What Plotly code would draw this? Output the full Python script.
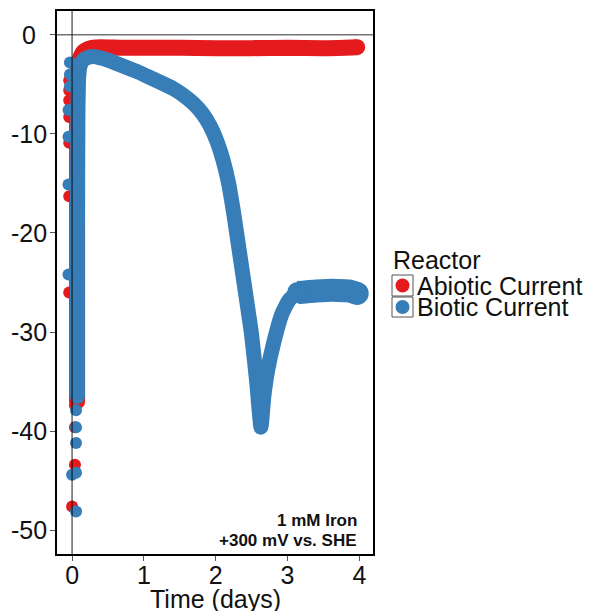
import plotly.graph_objects as go

# ---- data ----
red_dot_x = [-0.04, -0.04, -0.04, -0.04, -0.04, -0.04, -0.04, 0.04, 0.04, 0.04, 0.0]
red_dot_y = [-4.6, -5.6, -6.6, -8.3, -10.9, -16.3, -26.0, -37.4, -39.6, -43.4, -47.6]

blue_dot_x = [-0.03, -0.03, -0.03, -0.05, -0.05, -0.05, -0.05, 0.055, 0.055, 0.055, 0.055, 0.0, 0.055]
blue_dot_y = [-2.8, -4.0, -5.2, -7.6, -10.3, -15.1, -24.2, -37.9, -39.6, -41.2, -44.2, -44.4, -48.1]

red_curve_x = [0.07, 0.07, 0.07, 0.075, 0.09, 0.12, 0.16, 0.22, 0.30, 0.40, 0.70,
               1.00, 1.50, 2.00, 2.50, 3.00, 3.50, 3.80, 3.97]
red_curve_y = [-37.0, -20.0, -8.0, -4.5, -3.0, -2.2, -1.7, -1.45, -1.3, -1.25, -1.3,
               -1.3, -1.3, -1.35, -1.35, -1.3, -1.35, -1.3, -1.25]

blue_curve_x = [0.075, 0.075, 0.08, 0.09, 0.11, 0.15, 0.22, 0.30, 0.40, 0.50, 0.62, 0.76, 0.90,
                1.05, 1.23, 1.40, 1.55, 1.70, 1.82, 1.93, 2.02, 2.10, 2.18, 2.25, 2.33, 2.42,
                2.50, 2.57, 2.63, 2.67, 2.72, 2.81, 2.92, 3.02, 3.12, 3.20]
blue_curve_y = [-36.5, -20.0, -8.0, -4.5, -3.2, -2.6, -2.3, -2.2, -2.35, -2.55, -2.9, -3.3, -3.7,
                -4.2, -4.8, -5.4, -6.1, -7.0, -8.0, -9.3, -10.8, -12.6, -15.0, -18.0, -21.9, -26.3,
                -30.3, -35.0, -39.6, -36.5, -34.0, -31.0, -28.2, -26.8, -26.1, -25.95]

blue_plateau_x = [3.14, 3.25, 3.40, 3.55, 3.70, 3.85, 3.97]
blue_plateau_y = [-26.0, -25.95, -25.85, -25.8, -25.8, -25.85, -26.1]

series_names = ["Abiotic Current", "Biotic Current"]
series_colors = ["#E41A1C", "#377EB8"]

x_ticks = [0, 1, 2, 3, 4]
y_ticks = [0, -10, -20, -30, -40, -50]
y_tick_text = ["0", "-10", "-20", "-30", "-40", "-50"]

FONT = "Liberation Sans, Arial, sans-serif"
TXT = "#111111"
FS = 25


def end_marker(n, s_first, s_last, color):
    sizes = [s_first] + [0] * (n - 2) + [s_last]
    return dict(color=color, size=sizes, opacity=1, line=dict(width=0))


fig = go.Figure()
# Abiotic (red)
fig.add_trace(go.Scatter(x=red_curve_x, y=red_curve_y, mode="lines+markers", name=series_names[0],
                         line=dict(color=series_colors[0], width=16, shape="spline", smoothing=0.5),
                         marker=end_marker(len(red_curve_x), 16, 16, series_colors[0]),
                         showlegend=False, hoverinfo="skip"))
fig.add_trace(go.Scatter(x=red_dot_x, y=red_dot_y, mode="markers", name=series_names[0],
                         marker=dict(color=series_colors[0], size=12, opacity=1, line=dict(width=0)),
                         showlegend=False))
# Biotic (blue)
fig.add_trace(go.Scatter(x=blue_plateau_x, y=blue_plateau_y, mode="lines+markers", name=series_names[1],
                         line=dict(color=series_colors[1], width=23, shape="spline", smoothing=0.5),
                         marker=end_marker(len(blue_plateau_x), 21, 23, series_colors[1]),
                         showlegend=False, hoverinfo="skip"))
fig.add_trace(go.Scatter(x=blue_curve_x, y=blue_curve_y, mode="lines+markers", name=series_names[1],
                         line=dict(color=series_colors[1], width=15, shape="spline", smoothing=0.5),
                         marker=end_marker(len(blue_curve_x), 15, 15, series_colors[1]),
                         showlegend=False, hoverinfo="skip"))
fig.add_trace(go.Scatter(x=blue_dot_x, y=blue_dot_y, mode="markers", name=series_names[1],
                         marker=dict(color=series_colors[1], size=12, opacity=1, line=dict(width=0)),
                         showlegend=False))

# plot area in pixels: x 57..373, y 11..554
L, R, T, B = 57, 373, 11, 554


def px(xp):
    return (xp - L) / (R - L)


def py(yp):
    return (B - yp) / (B - T)


shapes = [
    dict(type="line", xref="x", yref="paper", x0=0, x1=0, y0=0, y1=1,
         line=dict(color="rgba(0,0,0,0.6)", width=1.5), layer="above"),
    dict(type="line", xref="paper", yref="y", x0=0, x1=1, y0=0, y1=0,
         line=dict(color="rgba(0,0,0,0.55)", width=1.5), layer="above"),
]
annotations = []
# y tick labels (centered like the reference)
for v, t in zip(y_ticks, y_tick_text):
    annotations.append(dict(x=px(29.5), xref="paper", y=v, yref="y", text=t,
                            showarrow=False, xanchor="center", yanchor="middle",
                            font=dict(family=FONT, size=FS, color=TXT)))
# x axis title
annotations.append(dict(x=0.5, xref="paper", y=py(599), yref="paper", text="Time (days)",
                        showarrow=False, xanchor="center", yanchor="middle",
                        font=dict(family=FONT, size=FS, color=TXT)))
# manual legend
annotations.append(dict(x=px(391), y=py(260), xref="paper", yref="paper", text="Reactor",
                        showarrow=False, xanchor="left", yanchor="middle",
                        font=dict(family=FONT, size=FS, color=TXT)))
box_tops = [275, 297]
for i, (name, col) in enumerate(zip(series_names, series_colors)):
    top = box_tops[i]
    bot = top + 21 if i == 0 else top + 20
    shapes.append(dict(type="rect", xref="paper", yref="paper",
                       x0=px(392), x1=px(413), y0=py(bot), y1=py(top),
                       line=dict(color="#555555", width=1), fillcolor="white"))
    cyc = (top + bot) / 2
    shapes.append(dict(type="circle", xref="paper", yref="paper",
                       x0=px(395.5), x1=px(409.5), y0=py(cyc + 7), y1=py(cyc - 7),
                       line=dict(color=col, width=0), fillcolor=col))
    annotations.append(dict(x=px(415), y=py(cyc), xref="paper", yref="paper", text=name,
                            showarrow=False, xanchor="left", yanchor="middle",
                            font=dict(family=FONT, size=FS, color=TXT)))
# corner note
annotations.append(dict(x=px(358.5), y=py(520), xref="paper", yref="paper", text="1 mM Iron",
                        showarrow=False, xanchor="right", yanchor="middle",
                        font=dict(family=FONT, size=17, color=TXT, weight="bold")))
annotations.append(dict(x=px(358.5), y=py(540), xref="paper", yref="paper",
                        text="+300 mV vs. SHE",
                        showarrow=False, xanchor="right", yanchor="middle",
                        font=dict(family=FONT, size=17, color=TXT, weight="bold")))

fig.update_layout(
    width=590, height=611,
    margin=dict(l=L, r=590 - R, t=T, b=611 - B, pad=0),
    paper_bgcolor="white", plot_bgcolor="white",
    showlegend=False,
    shapes=shapes, annotations=annotations,
    font=dict(family=FONT, size=FS, color=TXT),
)
fig.update_xaxes(range=[-0.21, 4.19], tickvals=x_ticks, ticktext=[str(v) for v in x_ticks],
                 automargin=False,
                 showgrid=False, zeroline=False, showline=True, mirror=True,
                 linecolor="black", linewidth=1.5, ticks="outside", ticklen=5,
                 tickcolor="#555555", tickwidth=1, ticklabelstandoff=-7,
                 tickfont=dict(family=FONT, size=FS, color=TXT))
fig.update_yaxes(range=[-52.4, 2.4], tickvals=y_ticks, showticklabels=False,
                 automargin=False,
                 showgrid=False, zeroline=False, showline=True, mirror=True,
                 linecolor="black", linewidth=1.5, ticks="outside", ticklen=5,
                 tickcolor="#555555", tickwidth=1)

fig.write_html("out.html")
